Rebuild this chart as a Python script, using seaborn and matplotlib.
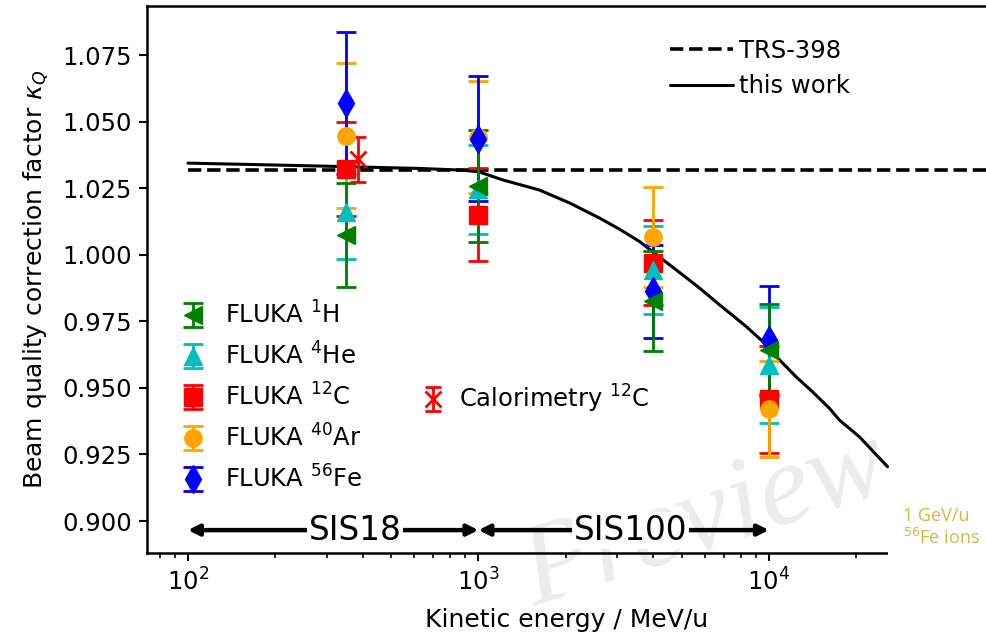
import numpy as np
import pandas as pd
import seaborn as sns
import matplotlib
matplotlib.use("Agg")
import matplotlib.pyplot as plt
from matplotlib.patches import Rectangle

# Beam energies (MeV/u) of the FLUKA simulations and the calorimetry point
energy_fluka = [350, 1000, 4000, 10000]
energy_calo = [385]

# k_Q values and uncertainties per ion species
kq_H = [1.0075, 1.0257, 0.9825, 0.9642]
err_H = [0.0195, 0.0210, 0.0188, 0.0172]
kq_He = [1.0162, 1.0245, 0.9943, 0.9585]
err_He = [0.0177, 0.0166, 0.0166, 0.0217]
kq_C = [1.0322, 1.0150, 0.9970, 0.9457]
err_C = [0.0177, 0.0174, 0.0160, 0.0202]
kq_Ar = [1.0447, 1.0443, 1.0067, 0.9420]
err_Ar = [0.0272, 0.0210, 0.0187, 0.0180]
kq_Fe = [1.0569, 1.0435, 0.9862, 0.9680]
err_Fe = [0.0267, 0.0235, 0.0175, 0.0203]
kq_calo = [1.0358]
err_calo = [0.0084]

# Fitted k_Q curve ("this work")
energy_fit = [100, 163, 285, 627, 862, 1000, 1212, 1622, 2063, 2618, 3070, 3592,
              4330, 5052, 5766, 6740, 8360, 9540, 10870, 12390, 14100, 16160,
              17480, 20450, 25600]
kq_fit = [1.0344, 1.0339, 1.0333, 1.0324, 1.0318, 1.0312, 1.0281, 1.0243,
          1.0194, 1.0137, 1.0095, 1.0049, 0.9980, 0.9924, 0.9875, 0.9813,
          0.9730, 0.9673, 0.9605, 0.9542, 0.9486, 0.9423, 0.9379, 0.9317,
          0.9204]

# TRS-398 reference value
energy_trs = [100, 100000]
kq_trs = [1.032, 1.032]

sns.set_theme(style="ticks", rc={
    "font.size": 17.5, "axes.labelsize": 18, "xtick.labelsize": 17.5,
    "ytick.labelsize": 17.5, "legend.fontsize": 17.5,
    "text.color": "black", "axes.labelcolor": "black",
    "xtick.color": "black", "ytick.color": "black",
    "axes.edgecolor": "black",
})
plt.rcParams["font.family"] = ["DejaVu Sans"]
plt.rcParams["mathtext.fontset"] = "dejavusans"

fig = plt.figure(figsize=(9.87, 6.37), dpi=100)
ax = fig.add_axes([147 / 987, 1 - 553 / 637, 1 - 147 / 987, (553 - 6) / 637])
ax.set_facecolor("none")

# faint watermark behind the plot
fig.text(0.715, 0.012, "Preview", fontsize=84, color="#ececec", rotation=18,
         family="Liberation Serif", style="italic", ha="center", va="bottom",
         zorder=-5)

fit_df = pd.DataFrame({"E": energy_fit, "kQ": kq_fit})
trs_df = pd.DataFrame({"E": energy_trs, "kQ": kq_trs})
sns.lineplot(data=trs_df, x="E", y="kQ", ax=ax, color="black", lw=2.6,
             linestyle="--", label="TRS-398")
sns.lineplot(data=fit_df, x="E", y="kQ", ax=ax, color="black", lw=2.2,
             label="this work")

GREEN, CYAN, RED, ORANGE, BLUE = "#008000", "#00bfbf", "#ff0000", "#ffa500", "#0000ff"

eb_kw = dict(linestyle="none", capsize=7.5, elinewidth=2.0, capthick=2.0)
series = {
    "C": (kq_C, err_C, "s", RED, r"FLUKA $^{12}$C", 12.5),
    "He": (kq_He, err_He, "^", CYAN, r"FLUKA $^{4}$He", 12.5),
    "Ar": (kq_Ar, err_Ar, "o", ORANGE, r"FLUKA $^{40}$Ar", 12.5),
    "Fe": (kq_Fe, err_Fe, "d", BLUE, r"FLUKA $^{56}$Fe", 14),
    "H": (kq_H, err_H, "<", GREEN, r"FLUKA $^{1}$H", 12.5),
}
handles = {}
for key, (vals, errs, mk, col, lab, ms) in series.items():
    handles[key] = ax.errorbar(energy_fluka, vals, yerr=errs, marker=mk,
                               color=col, ecolor=col, markersize=ms,
                               label=lab, **eb_kw)

h_calo = ax.errorbar(energy_calo, kq_calo, yerr=err_calo, marker="x", color=RED,
                     ecolor=RED, markersize=11, markeredgewidth=2.0,
                     linestyle="none", capsize=5.5, elinewidth=2.0,
                     capthick=2.0, label=r"Calorimetry $^{12}$C")

ax.set_xscale("log")
ax.set_xlim(72.3, 56300)
ax.set_ylim(0.888, 1.0934)
ax.set_yticks([0.900, 0.925, 0.950, 0.975, 1.000, 1.025, 1.050, 1.075])
ax.set_xlabel("Kinetic energy / MeV/u", labelpad=9)
ax.set_ylabel(r"Beam quality correction factor $\kappa_Q$", labelpad=8)
ax.spines["right"].set_visible(False)
for s in ("left", "bottom", "top"):
    ax.spines[s].set_linewidth(1.8)
ax.tick_params(which="major", length=6, width=1.5, direction="out", pad=5)
ax.tick_params(which="minor", length=3.5, width=1.2, direction="out")

# accelerator ranges
y_arrow = 0.8966
arrow_kw = dict(arrowstyle="<|-|>", lw=3.2, color="black", mutation_scale=16,
                shrinkA=0, shrinkB=0)
ax.annotate("", xy=(1000, y_arrow), xytext=(100, y_arrow), arrowprops=arrow_kw)
ax.annotate("", xy=(10000, y_arrow), xytext=(1000, y_arrow), arrowprops=arrow_kw)
box = dict(facecolor="white", edgecolor="none", pad=1.5)
ax.text(376, y_arrow, "SIS18", fontsize=23.5, ha="center", va="center", bbox=box)
ax.text(3330, y_arrow, "SIS100", fontsize=23.5, ha="center", va="center", bbox=box)

leg1 = ax.legend(handles=ax.get_lines()[:2], labels=["TRS-398", "this work"],
                 loc="upper left", bbox_to_anchor=(670 / 987, 1 - 39 / 637),
                 bbox_transform=fig.transFigure, frameon=False,
                 handlelength=2.6, handletextpad=0.25, labelspacing=0.46,
                 borderpad=0, borderaxespad=0)
ax.add_artist(leg1)

order = ["H", "He", "C", "Ar", "Fe"]
leg2 = ax.legend(handles=[handles[k] for k in order],
                 labels=[series[k][4] for k in order],
                 loc="upper left", bbox_to_anchor=(181 / 987, 1 - 301 / 637),
                 bbox_transform=fig.transFigure, frameon=False,
                 handlelength=1.0, handletextpad=0.8, labelspacing=0.57,
                 borderpad=0, borderaxespad=0)
ax.add_artist(leg2)

leg3 = ax.legend(handles=[h_calo], labels=[r"Calorimetry $^{12}$C"],
                 loc="upper left", bbox_to_anchor=(421 / 987, 1 - 383 / 637),
                 bbox_transform=fig.transFigure, frameon=False,
                 handlelength=1.0, handletextpad=0.55, borderpad=0,
                 borderaxespad=0)

# white panel covering the lower right corner, with its caption
fig.patches.append(Rectangle((888 / 987, 0), 1 - 888 / 987, (637 - 470) / 637,
                             transform=fig.transFigure, facecolor="white",
                             edgecolor="none", zorder=10))
fig.text(903 / 987, 1 - 516 / 637, "1 GeV/u", color="#d9b740", fontsize=13,
         family="Open Sans", ha="left", va="center", zorder=11)
fig.text(903 / 987, 1 - 538 / 637, r"$^{56}$Fe ions", color="#d9b740",
         fontsize=13, family="Open Sans", ha="left", va="center", zorder=11)

fig.savefig("out.png", dpi=100)
